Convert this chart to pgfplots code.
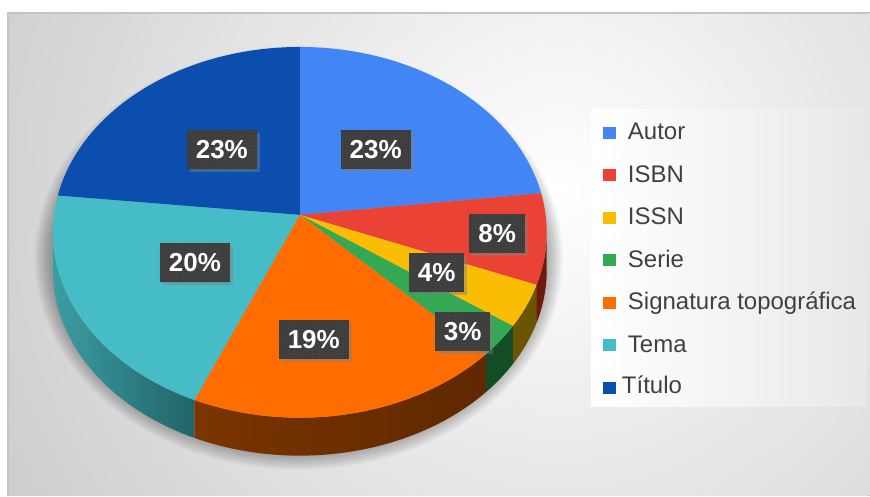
\documentclass[border=0pt]{standalone}
\usepackage{pgfplots}
\pgfplotsset{compat=1.18}
\usepackage{pgfplotstable}
\usepackage{fontspec}
\setmainfont{Liberation Sans}
\usetikzlibrary{shadows,patterns.meta}

\definecolor{cAutor}{HTML}{4285F4}
\definecolor{cISBN}{HTML}{EA4335}
\definecolor{cISSN}{HTML}{FBBC04}
\definecolor{cSerie}{HTML}{34A853}
\definecolor{cSig}{HTML}{FF6D01}
\definecolor{cTema}{HTML}{46BDC6}
\definecolor{cTit}{HTML}{0B4EAE}
\definecolor{sISBN}{HTML}{6E1A12}
\definecolor{sISSN}{HTML}{6B5500}
\definecolor{sSerie}{HTML}{124D25}
\definecolor{sSigL}{HTML}{7B3500}
\definecolor{sSigR}{HTML}{5E2800}
\definecolor{sTemaL}{HTML}{3C9DA3}
\definecolor{sTemaR}{HTML}{216468}
\definecolor{lbl}{HTML}{3E3E3E}
\definecolor{lbldot}{HTML}{555555}
\definecolor{txt}{HTML}{404040}
\definecolor{bgout}{HTML}{BEBEBE}
\definecolor{framecol}{HTML}{C4C4C4}

% share of each category (percent)
\pgfplotstableread[col sep=comma]{
cat,value
Autor,23.1
ISBN,7.9
ISSN,3.7
Serie,2.8
Signatura,18.9
Tema,20.3
Titulo,23.3
}\piedata

\pgfplotstablegetelem{0}{value}\of\piedata \let\vA\pgfplotsretval
\pgfplotstablegetelem{1}{value}\of\piedata \let\vB\pgfplotsretval
\pgfplotstablegetelem{2}{value}\of\piedata \let\vC\pgfplotsretval
\pgfplotstablegetelem{3}{value}\of\piedata \let\vD\pgfplotsretval
\pgfplotstablegetelem{4}{value}\of\piedata \let\vE\pgfplotsretval
\pgfplotstablegetelem{5}{value}\of\piedata \let\vF\pgfplotsretval
\pgfplotstablegetelem{6}{value}\of\piedata \let\vG\pgfplotsretval
\pgfmathsetmacro\cA{0}
\pgfmathsetmacro\cB{\cA+3.6*\vA}
\pgfmathsetmacro\cC{\cB+3.6*\vB}
\pgfmathsetmacro\cD{\cC+3.6*\vC}
\pgfmathsetmacro\cE{\cD+3.6*\vD}
\pgfmathsetmacro\cF{\cE+3.6*\vE}
\pgfmathsetmacro\cG{\cF+3.6*\vF}
\pgfmathsetmacro\cH{\cG+3.6*\vG}

% perspective projection of the pie disc (angle clockwise from top)
\pgfmathdeclarefunction{px}{1}{\pgfmathparse{300+246*sin(#1)/(1+0.0943*cos(#1))}}
\pgfmathdeclarefunction{py}{1}{\pgfmathparse{(215-163.57*cos(#1))/(1+0.0943*cos(#1))}}

\newcommand\slicetop[3]{\fill[#3] (300,215) -- plot[domain=#1:#2,samples=60,variable=\t]({px(\t)},{py(\t)}) -- cycle;}
\newcommand\sliceside[3]{\shade[#3] plot[domain=#1:#2,samples=40,variable=\t]({px(\t)},{py(\t)}) -- plot[domain=#2:#1,samples=40,variable=\t]({px(\t)},{py(\t)+38}) -- cycle;}

\begin{document}
\begin{tikzpicture}
\begin{axis}[
  scale only axis, width=435pt, height=248pt,
  xmin=0, xmax=870, ymin=0, ymax=496, y dir=reverse,
  enlargelimits=false, hide axis, clip=false,
]
% background
\fill[white] (0,0) rectangle (870,496);
\begin{scope}
\clip (8,13) rectangle (870,496);
\fill[inner color=white, outer color=bgout] (560,190) circle[radius=410pt];
\end{scope}
\draw[framecol, line width=0.6pt] (8,496) -- (8,13) -- (870,13);

% soft shadow
\pgfplotsinvokeforeach{0,...,7}{
  \fill[black, opacity=0.04] plot[domain=0:360,samples=90,variable=\t]({299+(250+2*#1)*cos(\t)},{258+(198+2*#1)*sin(\t)}) -- cycle;
}

% sides
\sliceside{95.4}{\cC}{left color=sISBN, right color=sISBN}
\sliceside{\cC}{\cD}{left color=sISSN, right color=sISSN}
\sliceside{\cD}{\cE}{left color=sSerie, right color=sSerie}
\sliceside{\cE}{\cF}{left color=sSigL, right color=sSigR}
\sliceside{\cF}{264.6}{left color=sTemaL, right color=sTemaR}

% tops
\slicetop{\cA}{\cB}{cAutor}
\slicetop{\cB}{\cC}{cISBN}
\slicetop{\cC}{\cD}{cISSN}
\slicetop{\cD}{\cE}{cSerie}
\slicetop{\cE}{\cF}{cSig}
\slicetop{\cF}{\cG}{cTema}
\slicetop{\cG}{\cH}{cTit}

% data labels
\tikzset{plbl/.style={fill=lbl, text=white, font=\bfseries\fontsize{13}{13}\selectfont,
  inner xsep=4.5pt, inner ysep=0pt, minimum height=19.5pt,
  drop shadow={opacity=0.45, shadow xshift=1.5pt, shadow yshift=-1.5pt},
  postaction={pattern={Dots[distance=1.7pt, radius=0.22pt]}, pattern color=lbldot}}}
\node[plbl] at (376,150) {23\%};
\node[plbl] at (497.5,234) {8\%};
\node[plbl] at (437,273) {4\%};
\node[plbl] at (463,332) {3\%};
\node[plbl] at (314,340) {19\%};
\node[plbl] at (195,263) {20\%};
\node[plbl] at (222,150) {23\%};

% legend
\shade[left color=white, right color=black!9] (592,110) rectangle (867,407);
\tikzset{ltxt/.style={anchor=base west, inner sep=0pt, text=txt, font=\fontsize{12}{12}\selectfont}}
\fill[cAutor] (603,127) rectangle (616,139); \node[ltxt] at (628,140) {Autor};
\fill[cISBN]  (603,169.5) rectangle (616,181.5); \node[ltxt] at (628,182.5) {ISBN};
\fill[cISSN]  (603,212) rectangle (616,224); \node[ltxt] at (628,225) {ISSN};
\fill[cSerie] (603,254.5) rectangle (616,266.5); \node[ltxt] at (628,267.5) {Serie};
\fill[cSig]   (603,297) rectangle (616,309); \node[ltxt] at (628,310) {Signatura topográfica};
\fill[cTema]  (603,339.5) rectangle (616,351.5); \node[ltxt] at (628,352.5) {Tema};
\fill[cTit]   (603,382) rectangle (616,394); \node[ltxt] at (622,394) {Título};
\end{axis}
\end{tikzpicture}
\end{document}
